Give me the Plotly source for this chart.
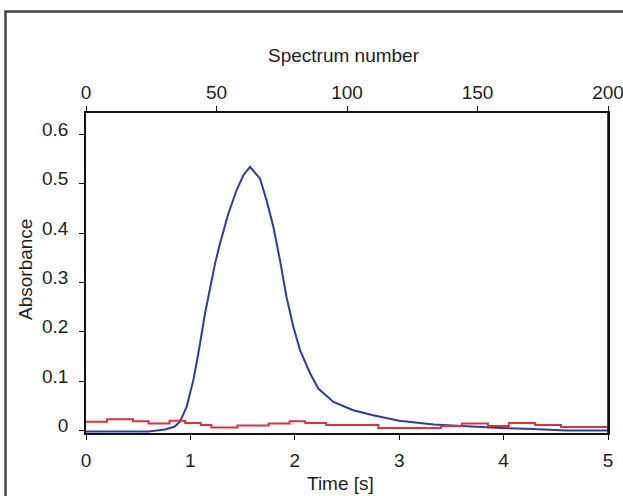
import plotly.graph_objects as go

# Blue trace (time [s], absorbance)
blue_t = [0.0, 0.3, 0.6, 0.757, 0.85, 0.90, 0.964, 1.028, 1.076, 1.14, 1.188, 1.236, 1.284,
          1.363, 1.443, 1.507, 1.571, 1.667, 1.73, 1.795, 1.858, 1.92, 1.986, 2.05,
          2.146, 2.225, 2.37, 2.56, 2.75, 3.0, 3.33, 3.65, 3.97, 4.28, 4.6, 5.0]
blue_v = [-0.002, -0.002, -0.002, 0.002, 0.008, 0.018, 0.048, 0.102, 0.156, 0.237, 0.291, 0.338, 0.379,
          0.439, 0.487, 0.517, 0.534, 0.510, 0.466, 0.412, 0.345, 0.271, 0.21, 0.163,
          0.116, 0.085, 0.058, 0.041, 0.031, 0.02, 0.012, 0.008, 0.005, 0.003, 0.0, 0.0]

# Red trace (step starts, values)
red_t = [0.0, 0.2, 0.45, 0.6, 0.8, 0.95, 1.1, 1.2, 1.45, 1.75, 1.95, 2.1, 2.3,
         2.8, 3.4, 3.6, 3.85, 4.05, 4.3, 4.55, 5.0]
red_v = [0.018, 0.023, 0.019, 0.014, 0.02, 0.015, 0.011, 0.006, 0.010, 0.014, 0.019, 0.015, 0.011,
         0.005, 0.009, 0.014, 0.009, 0.015, 0.011, 0.007, 0.007]

x_ticks = [0, 1, 2, 3, 4, 5]
top_ticks = [0, 50, 100, 150, 200]
y_ticks = [0, 0.1, 0.2, 0.3, 0.4, 0.5, 0.6]

FONT = "Liberation Sans, Arial, sans-serif"
TXT = "#1e1e1e"

W, H = 623, 496
L, R, T, B = 86, 15, 113, 63
PW, PH = W - L - R, H - T - B


def px(x):
    return (x - L) / PW


def py(y):
    return (H - B - y) / PH


fig = go.Figure()
fig.add_trace(go.Scatter(x=blue_t, y=blue_v, mode="lines",
                         line=dict(color="#2b3d9c", width=2), showlegend=False))
fig.add_trace(go.Scatter(x=red_t, y=red_v, mode="lines", line_shape="hv",
                         line=dict(color="#e0303c", width=2), showlegend=False))
# invisible trace to activate top axis
fig.add_trace(go.Scatter(x=[0, 200], y=[None, None], xaxis="x2", mode="lines",
                         showlegend=False, hoverinfo="skip"))

axis_common = dict(showline=True, linecolor="#111111", linewidth=1.5, ticks="outside",
                   ticklen=5, tickwidth=1.2, tickcolor="#111111", showgrid=False, zeroline=False,
                   automargin=False, ticklabeloverflow="allow",
                   tickfont=dict(family=FONT, size=19, color=TXT))

fig.update_layout(
    width=W, height=H,
    margin=dict(l=L, r=R, t=T, b=B, autoexpand=False),
    paper_bgcolor="white", plot_bgcolor="white",
    xaxis=dict(range=[0, 5], tickvals=x_ticks, ticklabelstandoff=4, **axis_common),
    xaxis2=dict(range=[0, 200], tickvals=top_ticks, overlaying="x", side="top",
                ticklabelstandoff=0, **axis_common),
    yaxis=dict(range=[-0.005, 0.643], tickvals=y_ticks, mirror=True,
               ticklabelstandoff=7, ticklabelshift=-5, **axis_common),
)
ann_font = dict(family=FONT, size=19, color=TXT)
fig.add_annotation(text="Spectrum number", xref="paper", yref="paper", x=px(344), y=py(55),
                   showarrow=False, font=ann_font, xanchor="center", yanchor="middle")
fig.add_annotation(text="Time [s]", xref="paper", yref="paper", x=px(340), y=py(483),
                   showarrow=False, font=ann_font, xanchor="center", yanchor="middle")
fig.add_annotation(text="Absorbance", xref="paper", yref="paper", x=px(25), y=py(270),
                   showarrow=False, font=ann_font, xanchor="center", yanchor="middle", textangle=-90)
# right frame line
fig.add_shape(type="line", xref="paper", yref="paper", x0=1, x1=1, y0=0, y1=1,
              line=dict(color="#111111", width=1.5))
# outer frame of the picture
fig.add_shape(type="rect", xref="paper", yref="paper",
              x0=px(5.5), x1=px(640), y0=py(515), y1=py(11.5),
              line=dict(color="#444444", width=2.5), fillcolor="rgba(0,0,0,0)", layer="below")

fig.write_html(
    "out.html",
    config={"displayModeBar": False},
    post_script="document.body.style.margin='0';document.body.style.overflow='hidden';",
)
